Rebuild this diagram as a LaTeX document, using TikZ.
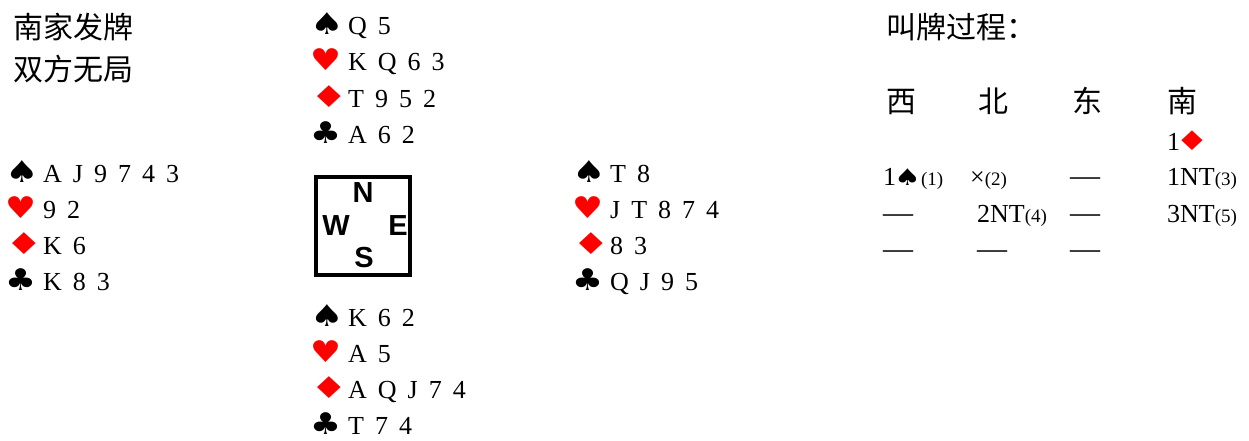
\documentclass[tikz,border=0pt]{standalone}
\usepackage{fontspec}
\setmainfont{Liberation Serif}
\setsansfont{Liberation Sans}
\newfontfamily\cjk{Noto Sans CJK SC}
\newfontfamily\suitfont{DejaVu Sans}
\usepackage{tikz}
\usetikzlibrary{positioning}
\definecolor{suitred}{HTML}{FF0000}

% suit symbols in front of a holding, text starts 33pt after the symbol
\newcommand{\suitbox}[3]{\makebox[33pt][l]{\hspace{-5pt}\suitfont\fontsize{30}{30}\selectfont\scalebox{#2}[1]{\textcolor{#1}{#3}}}}
\newcommand{\spd}{\suitbox{black}{1.25}{♠}}
\newcommand{\hrt}{\suitbox{suitred}{1.15}{♥}}
\newcommand{\dia}{\suitbox{suitred}{1.4}{♦}}
\newcommand{\clb}{\suitbox{black}{1.15}{♣}}
% suit symbols inside a bid
\newcommand{\bsp}{{\suitfont\fontsize{23}{23}\selectfont\hspace{-2pt}\scalebox{1.3}[1]{♠}}}
\newcommand{\bdi}{{\suitfont\fontsize{27}{27}\selectfont\hspace{-5pt}\scalebox{1.4}[1]{\textcolor{suitred}{♦}}}}
\newcommand{\nt}[1]{{\fontsize{19}{19}\selectfont(#1)}}
\newcommand{\pass}{{\fontsize{30}{30}\selectfont —}}
\newcommand{\cardfont}{\fontsize{26}{30}\selectfont\spaceskip=11pt\relax}

\begin{document}
\begin{tikzpicture}[
    x=1pt, y=-1pt,
    cardline/.style={inner sep=0pt, anchor=base west, font=\cardfont},
    nextline/.style={below=36pt of #1.base west, anchor=base west},
    hanzi/.style={inner sep=0pt, anchor=base west, font=\cjk\fontsize{30}{34}\selectfont},
    compass/.style={inner sep=0pt, font=\sffamily\bfseries\fontsize{29}{29}\selectfont},
    bid/.style={inner sep=0pt, anchor=base west, font=\fontsize{26}{30}\selectfont},
]
    \useasboundingbox (0,0) rectangle (1249,441);

    % deal info
    \node[hanzi] (dealer) at (13,38.5) {南家发牌};
    \node[hanzi] (vul) at (13,81) {双方无局};

    % North
    \node[cardline] (n1) at (315,35) {\spd Q 5};
    \node[cardline, nextline=n1] (n2) {\hrt K Q 6 3};
    \node[cardline, nextline=n2] (n3) {\dia T 9 5 2};
    \node[cardline, nextline=n3] (n4) {\clb A 6 2};

    % West
    \node[cardline] (w1) at (10,182) {\spd A J 9 7 4 3};
    \node[cardline, nextline=w1] (w2) {\hrt 9 2};
    \node[cardline, nextline=w2] (w3) {\dia K 6};
    \node[cardline, nextline=w3] (w4) {\clb K 8 3};

    % East
    \node[cardline] (e1) at (577,182) {\spd T 8};
    \node[cardline, nextline=e1] (e2) {\hrt J T 8 7 4};
    \node[cardline, nextline=e2] (e3) {\dia 8 3};
    \node[cardline, nextline=e3] (e4) {\clb Q J 9 5};

    % South
    \node[cardline] (s1) at (315,326) {\spd K 6 2};
    \node[cardline, nextline=s1] (s2) {\hrt A 5};
    \node[cardline, nextline=s2] (s3) {\dia A Q J 7 4};
    \node[cardline, nextline=s3] (s4) {\clb T 7 4};

    % compass
    \node[draw, line width=4pt, minimum width=94pt, minimum height=98pt, inner sep=0pt] (board) at (363,226) {};
    \node[compass] (cn) at (363,193) {N};
    \node[compass] (cw) at (336,226) {W};
    \node[compass] (ce) at (398,226) {E};
    \node[compass] (cs) at (364,258) {S};

    % bidding
    \node[hanzi] (auction) at (886,38.5) {叫牌过程：};
    \node[hanzi] (hw) at (886,112.5) {西};
    \node[hanzi] (hn) at (978,112.5) {北};
    \node[hanzi] (he) at (1072,112.5) {东};
    \node[hanzi] (hs) at (1167,112.5) {南};

    \node[bid] (b0s) at (1167,150) {1\bdi};

    \node[bid] (b1w) at (883,185) {1\bsp\nt{1}};
    \node[bid] (b1n) at (970,185) {×\nt{2}};
    \node[bid] (b1e) at (1070,185) {\pass};
    \node[bid] (b1s) at (1167,185) {1NT\nt{3}};

    \node[bid] (b2w) at (883,222) {\pass};
    \node[bid] (b2n) at (977,222) {2NT\nt{4}};
    \node[bid] (b2e) at (1070,222) {\pass};
    \node[bid] (b2s) at (1167,222) {3NT\nt{5}};

    \node[bid] (b3w) at (883,258) {\pass};
    \node[bid] (b3n) at (977,258) {\pass};
    \node[bid] (b3e) at (1070,258) {\pass};
\end{tikzpicture}
\end{document}
